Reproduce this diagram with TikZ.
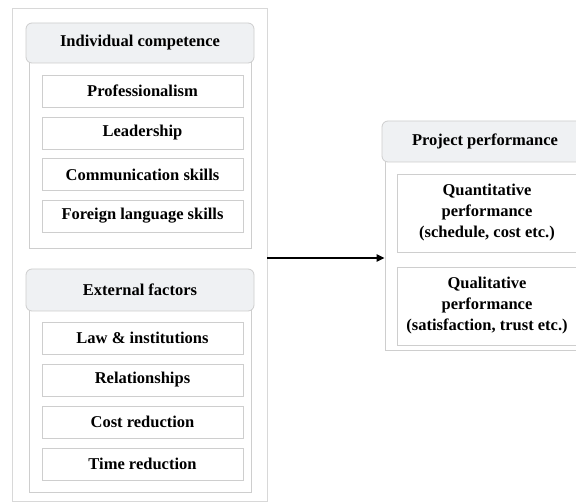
\documentclass[tikz,border=0pt]{standalone}
\usepackage{fontspec}
\setmainfont{Liberation Serif}
\usetikzlibrary{arrows.meta}
\definecolor{framegray}{RGB}{216,216,216}
\definecolor{boxgray}{RGB}{206,206,206}
\definecolor{headfill}{RGB}{239,241,243}
\begin{document}
\begin{tikzpicture}[x=1pt, y=-1pt, line width=0.8pt,
        every node/.style={inner sep=0pt, align=center, font=\fontsize{16.5}{21}\selectfont\bfseries},
        outer box/.style={rectangle, draw=framegray, fill=white},
        panel box/.style={rectangle, draw=boxgray, fill=white},
        head box/.style={rectangle, rounded corners=6pt, draw=boxgray, fill=headfill},
        item box/.style={rectangle, draw=boxgray, fill=white, minimum width=201pt, minimum height=32pt}]
    \clip (0,0) rectangle (576,502);
    \fill[white] (0,0) rectangle (576,502);
    % left frame with the two groups
    \node[outer box, minimum width=255pt, minimum height=493pt] (frame) at (139.5,254.5) {};
    \node[panel box, minimum width=222pt, minimum height=205pt] (panelA) at (140,145.5) {};
    \node[head box, minimum width=228pt, minimum height=40pt] (headA) at (140,43) {Individual competence};
    \node[item box] (prof) at (142.5,91) {Professionalism};
    \node[item box] (lead) at (142.5,133) {Leadership};
    \node[item box] (comm) at (142.5,174.5) {Communication skills};
    \node[item box] (lang) at (142.5,216) {Foreign language skills};
    \node[panel box, minimum width=222pt, minimum height=202pt] (panelB) at (140,391) {};
    \node[head box, minimum width=228pt, minimum height=42pt] (headB) at (140,290) {External factors};
    \node[item box] (law) at (142.5,338) {Law \& institutions};
    \node[item box] (rel) at (142.5,380) {Relationships};
    \node[item box] (cost) at (142.5,422) {Cost reduction};
    \node[item box] (time) at (142.5,464) {Time reduction};
    % right group
    \node[panel box, minimum width=200pt, minimum height=210pt] (panelC) at (485,245) {};
    \node[head box, minimum width=206pt, minimum height=41pt] (headC) at (485,141.5) {Project performance};
    \node[item box, minimum width=180pt, minimum height=78pt] (quant) at (487,213)
        {Quantitative\\performance\\(schedule, cost etc.)};
    \node[item box, minimum width=180pt, minimum height=78pt] (qual) at (487,306)
        {Qualitative\\performance\\(satisfaction, trust etc.)};
    % link
    \draw[line width=2pt, -{Triangle[length=8pt, width=7pt]}] (frame.east |- 0,258) -- (panelC.west |- 0,258);
\end{tikzpicture}
\end{document}
